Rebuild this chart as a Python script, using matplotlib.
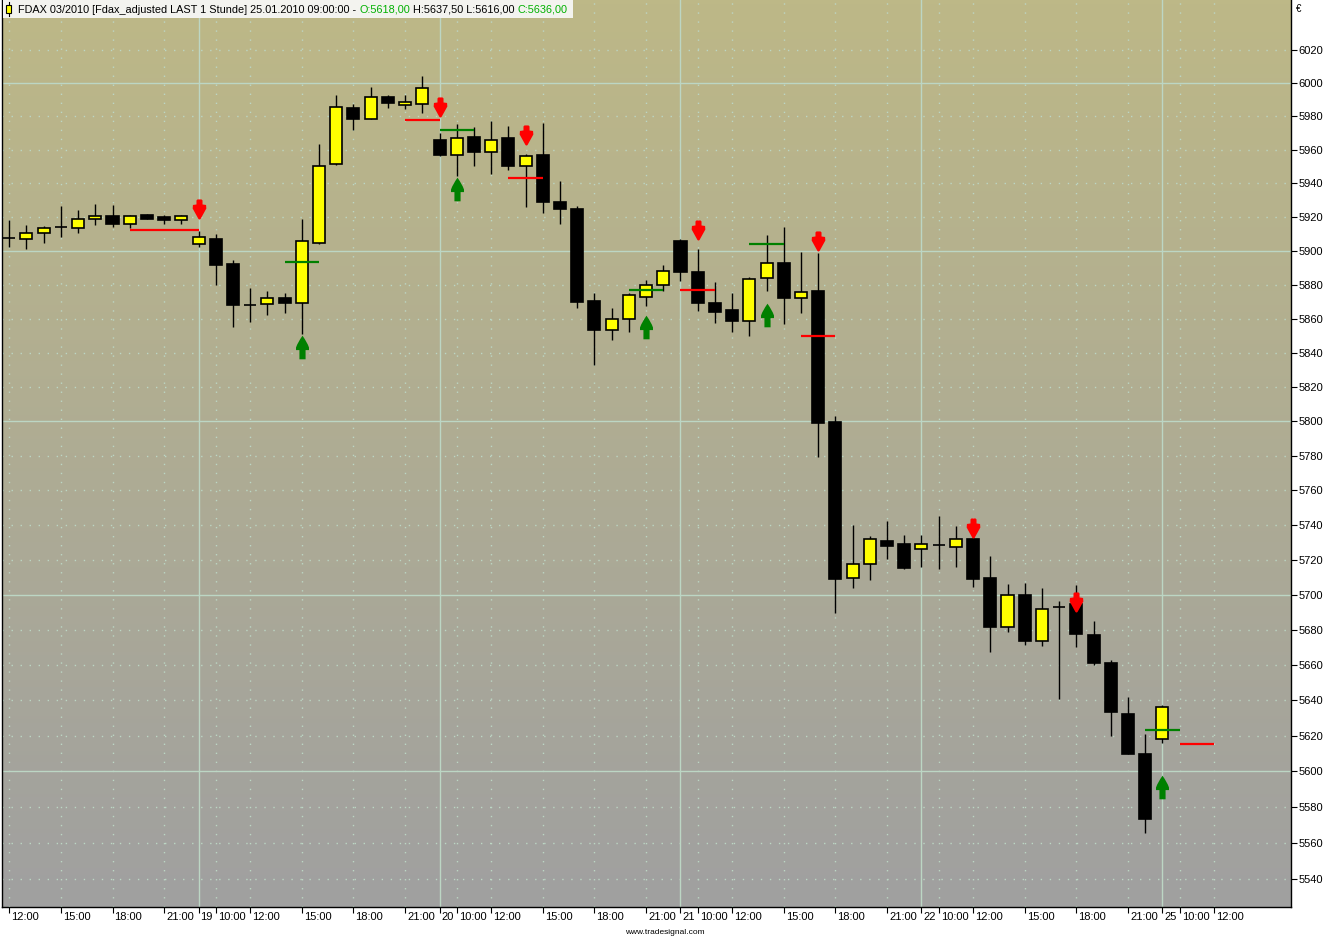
import numpy as np
import matplotlib
matplotlib.use('Agg')
import matplotlib.pyplot as plt
import matplotlib.transforms as mtransforms
from matplotlib.colors import LinearSegmentedColormap
from matplotlib.patches import Rectangle
from matplotlib.lines import Line2D
from matplotlib.path import Path
from matplotlib.ticker import FixedLocator, NullLocator, FixedFormatter

plt.rcParams['font.family'] = ['Liberation Sans', 'DejaVu Sans']

# hourly FDAX bars, 18.01.2010 12:00 .. 25.01.2010 09:00
opens = [5907.5, 5907, 5910.5, 5914, 5913.5, 5919, 5920.5, 5916, 5921, 5920, 5918,
         5904, 5907, 5892, 5868, 5868.5, 5872, 5869, 5904.5, 5951.5, 5985, 5978.5, 5991.5, 5987, 5987.5,
         5966, 5957, 5967.5, 5958.5, 5967, 5950, 5957, 5929, 5924.5, 5870.5, 5853.5, 5860, 5872.5, 5879.5,
         5905.5, 5887.5, 5869, 5865, 5858.5, 5884, 5892.5, 5872, 5876, 5799.5, 5709.5, 5717.5, 5731, 5729,
         5726, 5728.5, 5727.5, 5732, 5709.5, 5681.5, 5700, 5673.5, 5693, 5694.5, 5677, 5661, 5632.5, 5610,
         5618]
highs = [5918, 5915, 5914.5, 5926.5, 5924, 5927.5, 5927, 5921, 5921.5, 5921, 5921,
         5911.5, 5910, 5894.5, 5878, 5876, 5875, 5918.5, 5963.5, 5993, 5987.5, 5997.5, 5992.5, 5993, 6004,
         5970, 5975.5, 5973.5, 5977, 5974, 5957.5, 5976, 5941.5, 5926.5, 5875, 5866, 5875, 5882.5, 5891.5,
         5907, 5901, 5881.5, 5875, 5884.5, 5909.5, 5914, 5899.5, 5898.5, 5803, 5740, 5733.5, 5742.5, 5734.5,
         5734.5, 5745, 5739.5, 5735, 5722, 5706, 5706.5, 5704, 5696.5, 5705.5, 5685, 5663, 5642, 5621,
         5637.5]
lows = [5902, 5901, 5904.5, 5908, 5910.5, 5915, 5914, 5913.5, 5918.5, 5915.5, 5915.5,
        5902, 5880, 5855, 5858, 5862, 5863, 5851, 5904, 5951, 5972, 5978.5, 5985, 5984.5, 5982,
        5956.5, 5944.5, 5950, 5945.5, 5948, 5926, 5922.5, 5915.5, 5866, 5833, 5847.5, 5852, 5867.5, 5876,
        5882, 5864.5, 5857.5, 5852, 5849.5, 5876, 5857, 5863.5, 5779, 5689.5, 5704, 5708.5, 5720.5, 5715,
        5716, 5715, 5716, 5704.5, 5667.5, 5678.5, 5671.5, 5671, 5641, 5670, 5660, 5620, 5610, 5565.5,
        5616]
closes = [5907.5, 5910.5, 5913.5, 5914, 5918.5, 5920.5, 5916, 5920.5, 5919, 5918, 5920.5,
          5908, 5891.5, 5868, 5868, 5872, 5869, 5905.5, 5950.5, 5985.5, 5978.5, 5991.5, 5988, 5988.5, 5997,
          5957, 5967, 5958.5, 5966, 5950.5, 5956.5, 5929, 5924.5, 5870, 5853.5, 5860, 5874, 5879.5, 5888,
          5887.5, 5869, 5864, 5858.5, 5883.5, 5892.5, 5872, 5875.5, 5799, 5709, 5717.5, 5732, 5728, 5715.5,
          5729, 5728.5, 5732, 5709, 5681.5, 5700, 5673.5, 5692, 5693, 5677.5, 5661, 5633.5, 5610, 5573.5,
          5636]

# signal levels (from bar, to bar, price)
red_levels = [(7, 11, 5912.5), (23, 25, 5978), (29, 31, 5943), (39, 41, 5877), (46, 48, 5849.5), (68, 70, 5615.5)]
green_levels = [(16, 18, 5893.5), (25, 27, 5972), (36, 38, 5877), (43, 45, 5904), (66, 68, 5623.5)]

# signal arrows
short_bars = [11, 25, 30, 40, 47, 56, 62]
short_prices = [5924.5, 5985.5, 5969, 5912, 5906, 5738.5, 5696]
long_bars = [17, 26, 37, 44, 67]
long_prices = [5843.5, 5936.5, 5855, 5862, 5591.5]

xtick_pos = [0, 3, 6, 9, 11, 12, 14, 17, 20, 23, 25, 26, 28, 31, 34, 37, 39, 40, 42, 45, 48, 51,
             53, 54, 56, 59, 62, 65, 67, 68, 70]
xtick_labels = ['12:00', '15:00', '18:00', '21:00', '19', '10:00', '12:00', '15:00', '18:00', '21:00',
                '20', '10:00', '12:00', '15:00', '18:00', '21:00', '21', '10:00', '12:00', '15:00',
                '18:00', '21:00', '22', '10:00', '12:00', '15:00', '18:00', '21:00', '25', '10:00', '12:00']
day_starts = [11, 25, 39, 53, 67]
yticks = list(range(5540, 6021, 20))

W, H = 1333, 939
fig = plt.figure(figsize=(W / 100, H / 100), dpi=100)
fig.patch.set_facecolor('white')
rect = [2 / W, 1 - 907 / H, 1289 / W, 907 / H]

# gradient background
bg = fig.add_axes(rect, zorder=0)
cmap = LinearSegmentedColormap.from_list('bg', ['#bdb887', '#a0a0a0'])
bg.imshow(np.linspace(0, 1, 256).reshape(-1, 1), aspect='auto', cmap=cmap, extent=[0, 1, 0, 1])
bg.axis('off')

ax = fig.add_axes(rect, zorder=1)
ax.patch.set_visible(False)
ax.set_yscale('log')
ax.set_xlim(-0.42, 74.47)
ax.set_ylim(5524.4, 6050.1)

grid_c = '#bcd6c4'
for v in yticks:
    if v % 100 == 0:
        ax.axhline(v, color=grid_c, lw=1.0, zorder=1)
    else:
        ax.axhline(v, color=grid_c, lw=1.0, ls=(0, (1, 5.5)), zorder=1)
for t in xtick_pos:
    if t in day_starts:
        ax.axvline(t, color=grid_c, lw=1.0, zorder=1)
    else:
        ax.axvline(t, color=grid_c, lw=1.0, ls=(0, (1, 5.5)), zorder=1)

o = np.array(opens)
h = np.array(highs)
l = np.array(lows)
c = np.array(closes)
x = np.arange(len(o))
up = c >= o
ax.vlines(x, l, h, color='black', lw=1.0, zorder=3)
ax.bar(x, np.abs(c - o), bottom=np.minimum(o, c), width=0.7,
       color=np.where(up, '#ffff00', '#000000'), edgecolor='black', linewidth=1.2, zorder=4)

for a, b, p in red_levels:
    ax.hlines(p, a, b, color='#ff0000', lw=1.6, zorder=5)
for a, b, p in green_levels:
    ax.hlines(p, a, b, color='#008000', lw=1.6, zorder=5)

# fat arrows: long (tip up, stem below) and short (tip down, short stem above)
up_verts = [(0, 1), (0.2, 0.7), (0.45, 0.25), (0.55, 0.0), (0.55, -0.22), (0.26, -0.22),
            (0.26, -1.0), (-0.26, -1.0), (-0.26, -0.22), (-0.55, -0.22), (-0.55, 0.0),
            (-0.45, 0.25), (-0.2, 0.7), (0, 1)]
dn_verts = [(-0.2, 1.0), (0.2, 1.0), (0.3, 0.9), (0.3, 0.5), (0.65, 0.45), (0.68, 0.1),
            (0.1, -0.95), (0, -1.0), (-0.1, -0.95), (-0.68, 0.1), (-0.65, 0.45), (-0.3, 0.5),
            (-0.3, 0.9), (-0.2, 1.0)]
up_arrow = Path(up_verts, closed=True)
down_arrow = Path(dn_verts, closed=True)
ax.plot(short_bars, short_prices, ls='none', marker=down_arrow, ms=14.5, color='#ff0000', mec='none', zorder=6)
ax.plot(long_bars, long_prices, ls='none', marker=up_arrow, ms=17, color='#008000', mec='none', zorder=6)

# axes, ticks
ax.yaxis.tick_right()
ax.yaxis.set_major_locator(FixedLocator(yticks))
ax.yaxis.set_major_formatter(FixedFormatter([str(v) for v in yticks]))
ax.yaxis.set_minor_locator(NullLocator())
ax.tick_params(axis='y', direction='out', length=4, width=0.8, pad=1.5, labelsize=8)
ax.set_xticks(xtick_pos)
ax.set_xticklabels([])
ax.tick_params(axis='x', direction='out', length=4, width=0.8)
for s in ['left', 'right', 'bottom']:
    ax.spines[s].set_color('black')
    ax.spines[s].set_linewidth(1.0)
ax.spines['top'].set_visible(False)

off = mtransforms.offset_copy(ax.get_xaxis_transform(), fig=fig, x=2, y=-5, units='dots')
for t, lab in zip(xtick_pos, xtick_labels):
    ax.text(t, 0, lab, transform=off, ha='left', va='top', fontsize=8)

# header
fig.add_artist(Rectangle((3 / W, 1 - 18 / H), 570 / W, 18 / H, transform=fig.transFigure,
                         facecolor='#f3f3ef', edgecolor='none', zorder=10))
fig.add_artist(Line2D([8.5 / W, 8.5 / W], [1 - 2 / H, 1 - 16 / H], transform=fig.transFigure,
                      color='black', lw=0.8, zorder=11))
fig.add_artist(Rectangle((5.5 / W, 1 - 13 / H), 6 / W, 8 / H, transform=fig.transFigure,
                         facecolor='#ffff00', edgecolor='black', lw=0.8, zorder=12))
renderer = fig.canvas.get_renderer()
pieces = [('FDAX 03/2010 [Fdax_adjusted LAST 1 Stunde] 25.01.2010 09:00:00 -', 'black'),
          ('O:5618,00', '#00b000'), ('H:5637,50 L:5616,00', 'black'), ('C:5636,00', '#00b000')]
xpos = 18
for s, col in pieces:
    t = fig.text(xpos / W, 1 - 13 / H, s, color=col, fontsize=7.8, ha='left', va='baseline', zorder=13)
    xpos += t.get_window_extent(renderer).width + 3

fig.text(1296 / W, 1 - 9 / H, '€', fontsize=7, ha='left', va='center')
fig.text(665 / W, 1 - 932 / H, 'www.tradesignal.com', fontsize=6, ha='center', va='center')

fig.savefig('out.png', dpi=100)
